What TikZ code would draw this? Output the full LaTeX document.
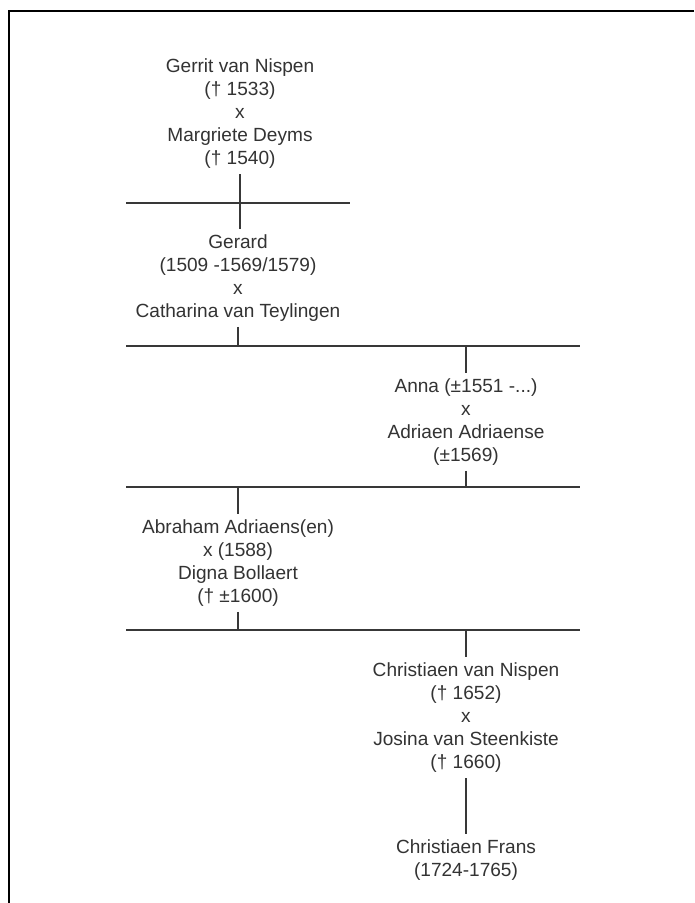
\documentclass[tikz,border=0pt]{standalone}
\usepackage{fontspec}
\setmainfont{Liberation Sans}
\definecolor{txt}{HTML}{333333}
\definecolor{ln}{HTML}{383838}
\begin{document}
\begin{tikzpicture}[x=0.75pt,y=-0.75pt,
  person/.style={align=center, anchor=north, inner xsep=2pt, inner ysep=3.75pt,
    text=txt, font=\fontsize{14.3}{17.4}\selectfont},
  conn/.style={draw=ln, line width=1pt},
  frame/.style={draw=black, line width=1.9pt}]
\useasboundingbox (0,0) rectangle (694,903);
\fill[white] (0,0) rectangle (694,903);
\draw[frame] (694,11) -- (9,11) -- (9,903);

\node[person] (p1) at (240,53) {Gerrit van Nispen\\(† 1533)\\x\\Margriete Deyms\\(† 1540)};
\node[person] (p2) at (238,229) {Gerard\\(1509 -1569/1579)\\x\\Catharina van Teylingen};
\node[person] (p3) at (466,373) {Anna (±1551 -...)\\x\\Adriaen Adriaense\\(±1569)};
\node[person] (p4) at (238,514) {Abraham Adriaens(en)\\x (1588)\\Digna Bollaert\\(† ±1600)};
\node[person] (p5) at (466,657) {Christiaen van Nispen\\(† 1652)\\x\\Josina van Steenkiste\\(† 1660)};
\node[person] (p6) at (466,834) {Christiaen Frans\\(1724-1765)};

\coordinate (h1a) at (126,203); \coordinate (h1b) at (350,203);
\coordinate (h2a) at (126,346); \coordinate (h2b) at (580,346);
\coordinate (h3a) at (126,487); \coordinate (h3b) at (580,487);
\coordinate (h4a) at (126,630); \coordinate (h4b) at (580,630);

\draw[conn] (h1a) -- (h1b);
\draw[conn] (h2a) -- (h2b);
\draw[conn] (h3a) -- (h3b);
\draw[conn] (h4a) -- (h4b);

\draw[conn] (p1.south) -- (p1.south |- p2.north);
\draw[conn] (p2.south) -- (p2.south |- h2a);
\draw[conn] (p3.north |- h2a) -- (p3.north);
\draw[conn] (p3.south) -- (p3.south |- h3a);
\draw[conn] (p4.north |- h3a) -- (p4.north);
\draw[conn] (p4.south) -- (p4.south |- h4a);
\draw[conn] (p5.north |- h4a) -- (p5.north);
\draw[conn] (p5.south) -- (p6.north);
\end{tikzpicture}
\end{document}
